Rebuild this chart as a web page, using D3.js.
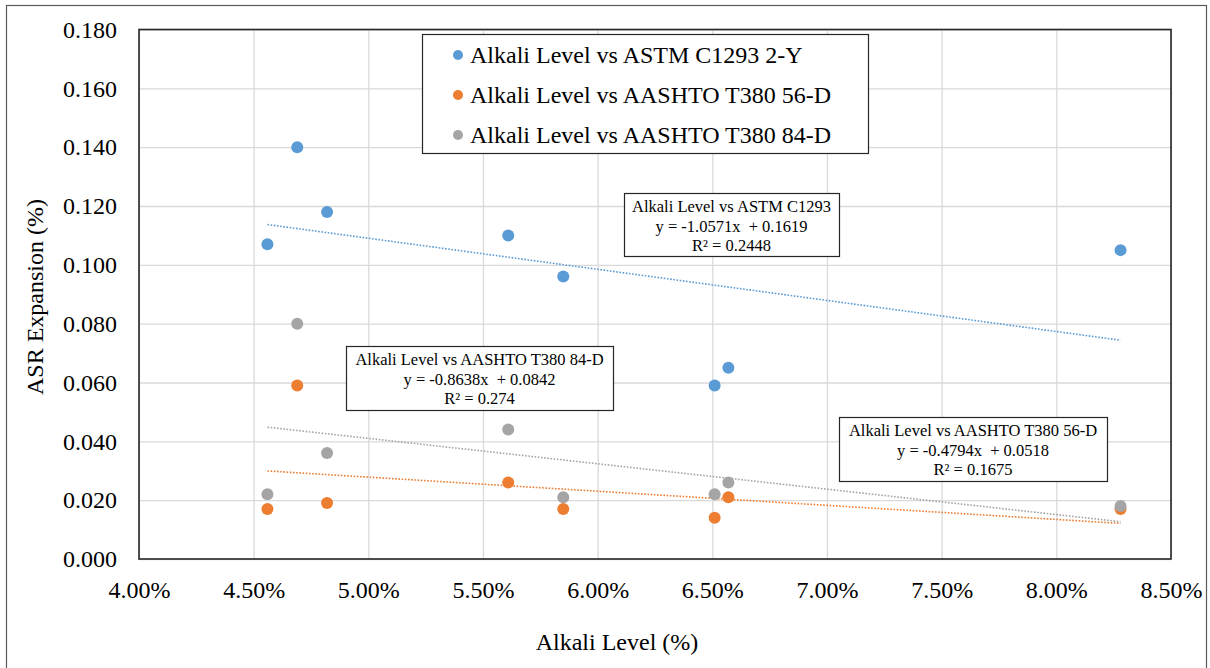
<!DOCTYPE html>
<html>
<head>
<meta charset="utf-8">
<script src="https://cdn.jsdelivr.net/npm/d3@7/dist/d3.min.js"></script>
<style>
  html, body { margin: 0; padding: 0; background: #fff; }
  svg { display: block; }
  text { font-family: "Liberation Serif", "Times New Roman", serif; fill: #000; }
</style>
</head>
<body>
<svg id="chart" width="1210" height="668"></svg>
<script>
// Alkali level of each mix (fraction, shown as %)
const alkali = [0.0456, 0.0469, 0.0482, 0.0561, 0.0585, 0.0651, 0.0657, 0.0828];

// ASR expansion (%) per test method
const astmC1293 = [0.107, 0.140, 0.118, 0.110, 0.096, 0.059, 0.065, 0.105];
const aashto56d = [0.017, 0.059, 0.019, 0.026, 0.017, 0.014, 0.021, 0.017];
const aashto84d = [0.022, 0.080, 0.036, 0.044, 0.021, 0.022, 0.026, 0.018];

const seriesNames = [
  "Alkali Level vs ASTM C1293 2-Y",
  "Alkali Level vs AASHTO T380 56-D",
  "Alkali Level vs AASHTO T380 84-D"
];
const seriesColors = ["#5B9BD5", "#ED7D31", "#A5A5A5"];

// Linear trendlines y = slope * x + intercept
const trendTitles = ["Alkali Level vs ASTM C1293", "Alkali Level vs AASHTO T380 56-D", "Alkali Level vs AASHTO T380 84-D"];
const trendSlopes = [-1.0571, -0.4794, -0.8638];
const trendIntercepts = [0.1619, 0.0518, 0.0842];
const trendR2 = ["0.2448", "0.1675", "0.274"];

const xTicks = [0.04, 0.045, 0.05, 0.055, 0.06, 0.065, 0.07, 0.075, 0.08, 0.085];
const yTicks = [0, 0.02, 0.04, 0.06, 0.08, 0.10, 0.12, 0.14, 0.16, 0.18];

const svg = d3.select("#chart");
const plot = { left: 139, top: 29.5, right: 1171, bottom: 559 };

const x = d3.scaleLinear().domain([0.04, 0.085]).range([plot.left, plot.right]);
const y = d3.scaleLinear().domain([0, 0.18]).range([plot.bottom, plot.top]);

// outer chart frame
svg.append("rect")
  .attr("x", 6.5).attr("y", 5.5).attr("width", 1200).attr("height", 670)
  .attr("fill", "#fff").attr("stroke", "#595959").attr("stroke-width", 1.2);

// gridlines
svg.append("g")
  .attr("transform", `translate(0,${plot.bottom})`)
  .call(d3.axisBottom(x).tickValues(xTicks).tickSize(-(plot.bottom - plot.top)).tickFormat(""))
  .call(g => g.select(".domain").remove())
  .call(g => g.selectAll("line").attr("stroke", "#d9d9d9").attr("stroke-width", 1.3));
svg.append("g")
  .attr("transform", `translate(${plot.left},0)`)
  .call(d3.axisLeft(y).tickValues(yTicks).tickSize(-(plot.right - plot.left)).tickFormat(""))
  .call(g => g.select(".domain").remove())
  .call(g => g.selectAll("line").attr("stroke", "#d9d9d9").attr("stroke-width", 1.3));

// plot frame
svg.append("rect")
  .attr("x", plot.left).attr("y", plot.top)
  .attr("width", plot.right - plot.left).attr("height", plot.bottom - plot.top)
  .attr("fill", "none").attr("stroke", "#262626").attr("stroke-width", 1.6);

// tick labels
const yAxis = svg.append("g")
  .attr("transform", `translate(${plot.left},0)`)
  .call(d3.axisLeft(y).tickValues(yTicks).tickSize(0).tickPadding(22).tickFormat(d3.format(".3f")));
yAxis.select(".domain").remove();
yAxis.selectAll("text").attr("font-size", 24).attr("font-family", "Liberation Serif").attr("fill", "#000");

const xAxis = svg.append("g")
  .attr("transform", `translate(0,${plot.bottom})`)
  .call(d3.axisBottom(x).tickValues(xTicks).tickSize(0).tickPadding(22).tickFormat(d3.format(".2%")));
xAxis.select(".domain").remove();
xAxis.selectAll("text").attr("font-size", 24).attr("font-family", "Liberation Serif").attr("fill", "#000");

// axis titles
svg.append("text")
  .attr("transform", "translate(43,297) rotate(-90)")
  .attr("text-anchor", "middle").attr("font-size", 24)
  .text("ASR Expansion (%)");
svg.append("text")
  .attr("x", 617).attr("y", 650)
  .attr("text-anchor", "middle").attr("font-size", 24)
  .text("Alkali Level (%)");

// trendlines
const xExt = d3.extent(alkali);
const line = d3.line().x(d => x(d[0])).y(d => y(d[1]));
trendSlopes.forEach((m, i) => {
  const pts = xExt.map(v => [v, m * v + trendIntercepts[i]]);
  svg.append("path")
    .attr("d", line(pts))
    .attr("fill", "none")
    .attr("stroke", seriesColors[i])
    .attr("stroke-width", 1.6)
    .attr("stroke-dasharray", "1.6,1.6");
});

// scatter points (drawn in series order, later series on top)
const allSeries = [astmC1293, aashto56d, aashto84d];
allSeries.forEach((vals, i) => {
  svg.append("g").selectAll("circle")
    .data(vals.map((v, j) => [alkali[j], v]))
    .join("circle")
    .attr("cx", d => x(d[0]))
    .attr("cy", d => y(d[1]))
    .attr("r", 6)
    .attr("fill", seriesColors[i]);
});

// legend
const legend = svg.append("g");
legend.append("rect")
  .attr("x", 422.5).attr("y", 34.5).attr("width", 446).attr("height", 119)
  .attr("fill", "#fff").attr("stroke", "#262626").attr("stroke-width", 1.2);
seriesNames.forEach((name, i) => {
  const cy = 55 + i * 40;
  legend.append("circle").attr("cx", 458).attr("cy", cy).attr("r", 5).attr("fill", seriesColors[i]);
  legend.append("text").attr("x", 470).attr("y", cy + 8).attr("font-size", 24).text(name);
});

// trendline equation labels
const labelBoxes = [
  { x: 624, y: 193, w: 215, h: 63 },
  { x: 839, y: 417, w: 268, h: 64 },
  { x: 346, y: 346, w: 267, h: 64 }
];
trendTitles.forEach((t, i) => {
  const b = labelBoxes[i];
  const g = svg.append("g");
  g.append("rect")
    .attr("x", b.x + 0.5).attr("y", b.y + 0.5).attr("width", b.w).attr("height", b.h)
    .attr("fill", "#fff").attr("stroke", "#262626").attr("stroke-width", 1.2);
  const cx = b.x + b.w / 2;
  const lines = [
    t,
    `y = ${trendSlopes[i].toFixed(4)}x  + ${trendIntercepts[i].toFixed(4)}`,
    `R² = ${trendR2[i]}`
  ];
  lines.forEach((s, k) => {
    g.append("text")
      .attr("x", cx).attr("y", b.y + 19 + k * 19.5)
      .attr("text-anchor", "middle").attr("font-size", 16.5)
      .attr("xml:space", "preserve")
      .style("white-space", "pre")
      .text(s);
  });
});
</script>
</body>
</html>
